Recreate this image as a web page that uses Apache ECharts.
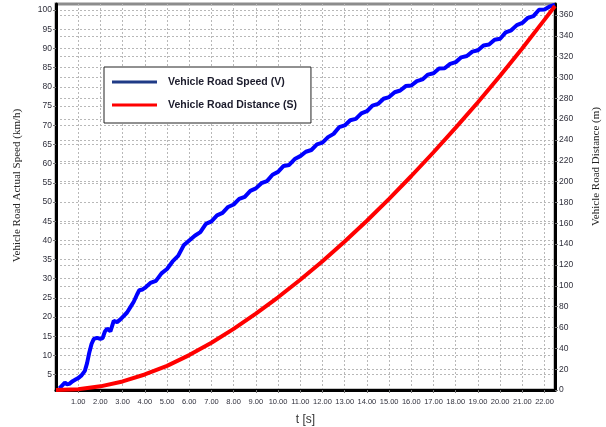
<!DOCTYPE html>
<html>
<head>
<meta charset="utf-8">
<script src="https://cdn.jsdelivr.net/npm/echarts@6/dist/echarts.min.js"></script>
<style>
  html, body { margin: 0; padding: 0; background: #fff; }
  #chart { width: 606px; height: 427px; }
</style>
</head>
<body>
<div id="chart"></div>
<script>
// Time samples (s) and measured road speed (km/h)
var speedTime = [
  0.15, 0.25, 0.4, 0.5, 0.6, 0.75, 0.9, 1.0, 1.15, 1.3, 1.4, 1.5, 1.6, 1.7, 1.85,
  2.0, 2.1, 2.2, 2.3, 2.45, 2.6, 2.75, 2.9, 3.0, 3.2, 3.35, 3.5, 3.65, 3.75, 3.9,
  4.0, 4.25, 4.5, 4.75, 5.0, 5.25, 5.5, 5.75, 6.0, 6.25, 6.5, 6.75, 7.0, 7.25, 7.5,
  7.75, 8.0, 8.25, 8.5, 8.75, 9.0, 9.25, 9.5, 9.75, 10.0, 10.25, 10.5, 10.75, 11.0,
  11.25, 11.5, 11.75, 12.0, 12.25, 12.5, 12.75, 13.0, 13.25, 13.5, 13.75, 14.0,
  14.25, 14.5, 14.75, 15.0, 15.25, 15.5, 15.75, 16.0, 16.25, 16.5, 16.75, 17.0,
  17.25, 17.5, 17.75, 18.0, 18.25, 18.5, 18.75, 19.0, 19.25, 19.5, 19.75, 20.0,
  20.25, 20.5, 20.75, 21.0, 21.25, 21.5, 21.75, 22.0, 22.25, 22.47
];
var speedValues = [
  1.4, 2.0, 2.9, 2.5, 2.6, 3.3, 3.8, 4.1, 4.8, 6.0, 8.0, 10.8, 13.0, 14.3, 14.6,
  14.3, 14.5, 16.2, 17.0, 16.3, 19.0, 18.7, 19.4, 20.0, 21.2, 22.6, 24.0, 25.9, 27.0, 27.2,
  27.6, 28.9, 29.45, 31.4, 32.55, 34.5, 35.95, 38.7, 39.95, 41.2, 42.15, 44.3, 44.95, 46.5, 47.15,
  48.7, 49.35, 50.8, 51.35, 52.9, 53.55, 54.9, 55.45, 57.1, 57.85, 59.4, 59.65, 61.2, 61.95,
  63.1, 63.55, 65.0, 65.45, 66.9, 67.75, 69.5, 69.95, 71.3, 71.65, 73.1, 73.65,
  75.1, 75.55, 76.9, 77.35, 78.6, 79.05, 80.2, 80.35, 81.5, 81.95, 83.2, 83.55,
  84.8, 84.85, 86.0, 86.45, 87.7, 88.05, 89.2, 89.55, 90.8, 91.05, 92.3, 92.55,
  94.2, 94.75, 96.1, 96.65, 98.0, 98.45, 100.1, 100.15, 101.0, 101.4
];

// Time samples (s) and travelled road distance (m)
var distanceTime = [0, 1, 2, 3, 4, 5, 6, 7, 8, 9, 10, 11, 12, 13, 14, 15, 16, 17, 18, 19, 20, 21, 22, 22.47];
var distanceValues = [0, 0.7, 3.5, 8.2, 14.9, 23.2, 33.5, 45.4, 58.7, 73.3, 89.0, 105.8, 123.6, 142.5,
  162.5, 183.5, 205.4, 228.2, 251.8, 276.2, 301.6, 328.0, 355.5, 368.5];

// Tick labels
var timeTicks = [1, 2, 3, 4, 5, 6, 7, 8, 9, 10, 11, 12, 13, 14, 15, 16, 17, 18, 19, 20, 21, 22];
var speedTicks = [5, 10, 15, 20, 25, 30, 35, 40, 45, 50, 55, 60, 65, 70, 75, 80, 85, 90, 95, 100];
var distanceTicks = [0, 20, 40, 60, 80, 100, 120, 140, 160, 180, 200, 220, 240, 260, 280, 300, 320, 340, 360];

var seriesNames = ['Vehicle Road Speed (V)', 'Vehicle Road Distance (S)'];
var speedTitle = 'Vehicle Road Actual Speed (km/h)';
var distanceTitle = 'Vehicle Road Distance (m)';

function pairs(xs, ys) {
  return xs.map(function (x, i) { return [x, ys[i]]; });
}

var sansFont = "'Liberation Sans', Arial, sans-serif";
var serifFont = "'Liberation Serif', 'Times New Roman', serif";
var yLabelFont = { fontFamily: sansFont, fontSize: 8.5, color: '#30303c' };
var gridLine = { show: true, lineStyle: { color: '#b8b8b8', type: [2, 2], width: 1 } };

var chart = echarts.init(document.getElementById('chart'), null, { renderer: 'canvas' });
chart.setOption({
  animation: false,
  backgroundColor: '#ffffff',
  grid: {
    left: 56, right: 51, top: 4, bottom: 37,
    outerBoundsMode: 'none',
    containLabel: false,
    show: true, borderColor: '#8c8c8c', borderWidth: 3, backgroundColor: 'transparent'
  },
  legend: {
    orient: 'vertical',
    left: 104, top: 67,
    padding: [8, 14, 11, 8],
    itemGap: 9,
    itemWidth: 45, itemHeight: 3,
    icon: 'rect',
    backgroundColor: '#ffffff',
    borderColor: '#222222', borderWidth: 1, borderRadius: 0,
    textStyle: {
      fontFamily: sansFont,
      fontWeight: 'bold', fontSize: 10.5, color: '#1c1c2c',
      lineHeight: 14, padding: [0, 0, 0, 6]
    },
    data: [
      { name: seriesNames[0], itemStyle: { color: '#1f3a86' } },
      { name: seriesNames[1], itemStyle: { color: '#ff0000' } }
    ]
  },
  graphic: [
    {
      type: 'text', x: 17.5, y: 185.5, rotation: Math.PI / 2,
      style: { text: speedTitle, fontFamily: serifFont, fontSize: 11, fill: '#222',
        align: 'center', verticalAlign: 'middle' }
    },
    {
      type: 'text', x: 596, y: 166.5, rotation: Math.PI / 2,
      style: { text: distanceTitle, fontFamily: serifFont, fontSize: 11, fill: '#222',
        align: 'center', verticalAlign: 'middle' }
    }
  ],
  xAxis: {
    type: 'value',
    min: 0, max: 22.47,
    name: 't [s]',
    nameLocation: 'middle',
    nameGap: 24,
    nameTextStyle: { fontFamily: sansFont, fontSize: 12, color: '#333' },
    axisLine: { show: true, lineStyle: { color: '#000', width: 3 } },
    axisTick: { show: true, length: 3, lineStyle: { color: '#777' }, customValues: timeTicks },
    axisLabel: {
      margin: 8, customValues: timeTicks, hideOverlap: false,
      fontFamily: sansFont, fontSize: 7.5, color: '#30303c',
      formatter: function (v) { return v.toFixed(2); }
    },
    splitLine: gridLine
  },
  yAxis: [
    {
      type: 'value',
      min: 1, max: 101.6,
      position: 'left',
      axisLine: { show: true, lineStyle: { color: '#000', width: 3 } },
      axisTick: { show: true, length: 3, lineStyle: { color: '#777' }, customValues: speedTicks },
      axisLabel: Object.assign({ margin: 4, customValues: speedTicks }, yLabelFont),
      splitLine: gridLine
    },
    {
      type: 'value',
      min: 0, max: 370.5,
      position: 'right',
      axisLine: { show: true, lineStyle: { color: '#000', width: 3 } },
      axisTick: { show: true, length: 3, lineStyle: { color: '#777' }, customValues: distanceTicks },
      axisLabel: Object.assign({ margin: 4, customValues: distanceTicks }, yLabelFont),
      splitLine: gridLine
    }
  ],
  series: [
    {
      name: seriesNames[0],
      type: 'line',
      yAxisIndex: 0,
      data: pairs(speedTime, speedValues),
      showSymbol: false,
      lineStyle: { color: '#0000ff', width: 4 },
      itemStyle: { color: '#0000ff' },
      z: 3
    },
    {
      name: seriesNames[1],
      type: 'line',
      yAxisIndex: 1,
      data: pairs(distanceTime, distanceValues),
      showSymbol: false,
      lineStyle: { color: '#ff0000', width: 4 },
      itemStyle: { color: '#ff0000' },
      z: 4
    }
  ]
});
</script>
</body>
</html>
